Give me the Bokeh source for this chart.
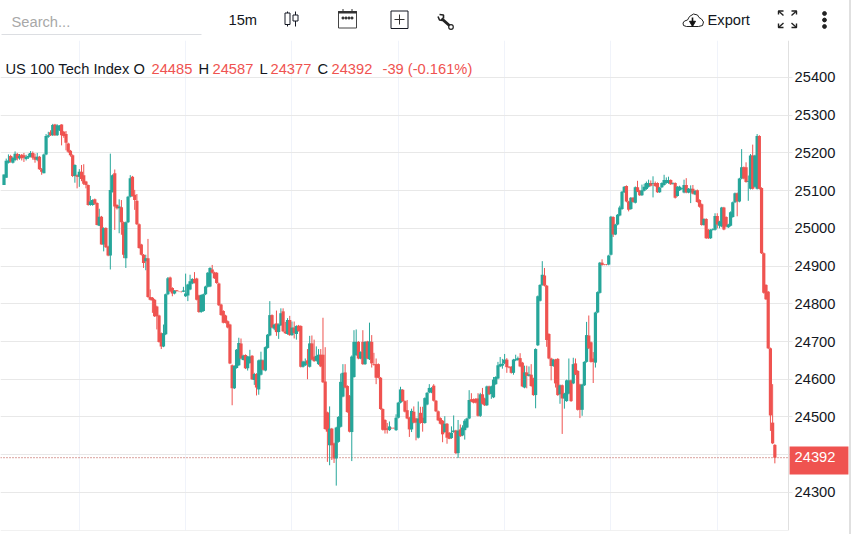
from bokeh.embed import file_html
from bokeh.resources import INLINE
from bokeh.plotting import figure
from bokeh.layouts import column, row
from bokeh.core.properties import value
from bokeh.models import (ColumnDataSource, Range1d, FixedTicker, Grid, Span, Label, BoxAnnotation, Div)

opens = [
25115,25134,25174,25192,25174,25181,25197,25186,25195,25194,
25184,25188,25190,25200,25190,25182,25190,25157,25146,25196,
25243,25255,25247,25275,25247,25260,25275,25256,25250,25225,
25206,25194,25139,25141,25137,25150,25141,25124,25115,25062,
25062,25077,25067,25007,25031,24957,25001,24952,24928,25097,
25146,25062,25053,25056,25016,24921,25016,25084,25137,25089,
25073,25011,24957,24930,24913,24921,24818,24816,24811,24793,
24769,24722,24687,24719,24825,24870,24842,24827,24836,24832,
24832,24832,24820,24822,24838,24854,24866,24867,24822,24778,
24781,24825,24845,24846,24891,24883,24882,24854,24798,24781,
24769,24754,24745,24637,24576,24630,24637,24695,24651,24664,
24629,24643,24662,24598,24614,24573,24612,24650,24623,24683,
24716,24770,24734,24748,24725,24743,24780,24727,24720,24757,
24717,24737,24720,24742,24741,24633,24637,24650,24633,24695,
24660,24649,24640,24665,24665,24594,24512,24425,24469,24430,
24390,24434,24474,24554,24618,24582,24556,24460,24606,24664,
24699,24655,24699,24640,24700,24653,24699,24640,24640,24640,
24604,24521,24492,24470,24465,24471,24471,24465,24498,24538,
24572,24542,24518,24498,24467,24514,24496,24445,24511,24498,
24484,24533,24565,24565,24583,24543,24515,24497,24490,24460,
24482,24458,24444,24460,24464,24404,24467,24451,24465,24472,
24496,24547,24547,24548,24549,24503,24560,24549,24531,24581,
24561,24552,24587,24602,24634,24636,24642,24652,24633,24633,
24617,24650,24651,24656,24644,24578,24618,24609,24612,24602,
24558,24690,24808,24850,24875,24848,24720,24655,24635,24652,
24654,24560,24584,24549,24542,24562,24597,24589,24642,24622,
24586,24519,24584,24646,24716,24698,24655,24644,24777,24829,
24909,24904,24904,24904,24930,25030,24984,25010,25034,25051,
25096,25112,25071,25051,25081,25068,25109,25100,25088,25100,
25104,25110,25120,25118,25120,25120,25096,25109,25115,25120,
25120,25128,25118,25120,25086,25101,25104,25095,25115,25095,
25095,25105,25090,25101,25075,25064,25009,25025,24996,24974,
24996,24996,25033,25007,25005,25055,25030,25003,25007,25030,
25069,25093,25071,25132,25162,25162,25123,25105,25193,25110,
25105,25245,25107,24934,24850,24832,24682,24485,24426]
closes = [
25143,25179,25180,25177,25187,25198,25185,25192,25186,25187,
25190,25192,25200,25187,25182,25190,25157,25150,25196,25245,
25247,25247,25274,25247,25273,25272,25247,25245,25227,25203,
25194,25139,25168,25137,25150,25131,25118,25115,25062,25071,
25075,25065,25009,25031,24957,25001,24950,24928,25102,25141,
25058,25053,25058,25016,24930,25016,25084,25133,25086,25075,
25011,24948,24930,24908,24921,24818,24811,24809,24767,24767,
24699,24687,24722,24825,24868,24833,24827,24835,24833,24832,
24831,24835,24827,24851,24860,24866,24856,24811,24778,24823,
24825,24846,24882,24895,24882,24868,24855,24796,24770,24750,
24750,24737,24642,24576,24635,24678,24696,24655,24663,24629,
24660,24660,24600,24614,24578,24650,24652,24625,24685,24718,
24770,24737,24745,24725,24745,24775,24727,24722,24757,24717,
24737,24722,24741,24728,24633,24647,24647,24641,24695,24652,
24648,24662,24665,24634,24592,24468,24461,24469,24425,24390,
24472,24500,24593,24617,24578,24513,24461,24660,24699,24699,
24655,24672,24640,24699,24655,24700,24642,24638,24604,24604,
24521,24466,24465,24466,24475,24470,24470,24498,24538,24573,
24542,24514,24496,24467,24516,24485,24485,24496,24484,24484,
24550,24564,24577,24577,24543,24515,24491,24482,24454,24482,
24445,24442,24458,24464,24404,24464,24449,24472,24490,24496,
24545,24541,24538,24538,24503,24560,24535,24531,24581,24560,
24581,24599,24606,24637,24640,24641,24652,24632,24631,24617,
24652,24653,24656,24634,24581,24618,24609,24613,24582,24558,
24680,24820,24850,24877,24848,24704,24655,24635,24652,24589,
24558,24584,24549,24562,24597,24597,24542,24640,24613,24519,
24519,24586,24646,24717,24682,24646,24646,24777,24831,24909,
24903,24903,24903,24928,25031,24984,25010,25036,25055,25097,
25110,25071,25049,25081,25070,25109,25098,25088,25101,25110,
25120,25120,25113,25120,25112,25096,25108,25120,25128,25128,
25128,25117,25120,25081,25110,25110,25106,25115,25095,25105,
25105,25092,25100,25070,25057,25009,25025,24974,24974,24996,
24998,25033,25010,25018,25055,24997,25005,25010,25043,25069,
25093,25071,25132,25162,25132,25123,25125,25193,25105,25193,
25245,25105,24934,24829,24812,24682,24504,24430,24392]
highs = [
25143,25185,25196,25195,25190,25204,25200,25197,25197,25200,
25195,25198,25205,25204,25198,25200,25192,25160,25198,25250,
25256,25260,25277,25277,25276,25274,25276,25258,25258,25227,
25208,25196,25170,25143,25157,25168,25170,25126,25116,25086,
25077,25079,25069,25052,25033,25003,25003,24954,25198,25143,
25156,25064,25077,25075,25018,25018,25086,25141,25139,25102,
25091,25013,24959,24932,24930,24972,24838,24818,24813,24795,
24771,24724,24745,24827,24871,24872,24844,24836,24836,24833,
24833,24845,24880,24853,24877,24868,24884,24869,24824,24825,
24827,24848,24884,24897,24903,24885,24884,24856,24800,24783,
24771,24756,24747,24639,24637,24680,24710,24708,24665,24666,
24662,24678,24664,24617,24616,24652,24673,24652,24687,24720,
24807,24772,24747,24782,24748,24788,24788,24752,24762,24768,
24753,24753,24743,24744,24743,24649,24655,24680,24715,24716,
24705,24687,24680,24680,24763,24685,24514,24528,24471,24432,
24474,24502,24615,24640,24640,24584,24558,24663,24730,24732,
24701,24674,24730,24701,24702,24750,24717,24670,24655,24642,
24606,24523,24494,24484,24488,24472,24472,24507,24540,24580,
24574,24544,24545,24500,24522,24528,24498,24541,24527,24527,
24552,24566,24587,24579,24587,24545,24517,24499,24492,24502,
24484,24460,24475,24504,24466,24492,24480,24478,24494,24498,
24571,24563,24549,24550,24563,24564,24577,24551,24583,24583,
24583,24606,24608,24646,24659,24654,24667,24656,24635,24635,
24654,24665,24660,24669,24646,24636,24636,24634,24640,24604,
24682,24822,24852,24913,24895,24850,24722,24657,24654,24654,
24656,24586,24586,24564,24599,24655,24599,24657,24655,24624,
24588,24588,24648,24752,24769,24700,24672,24779,24833,24911,
24918,24905,24905,24930,25033,25032,25012,25038,25060,25099,
25112,25114,25073,25083,25083,25111,25126,25102,25116,25118,
25124,25129,25127,25138,25124,25122,25110,25122,25142,25135,
25137,25130,25122,25122,25112,25113,25108,25129,25133,25107,
25114,25115,25102,25103,25077,25066,25027,25027,24998,24998,
25000,25040,25040,25020,25057,25057,25032,25012,25045,25071,
25095,25095,25134,25210,25164,25175,25140,25197,25222,25195,
25250,25247,25109,24936,24852,24834,24684,24587,24428]
lows = [
25115,25134,25172,25174,25172,25178,25180,25182,25180,25176,
25180,25184,25188,25182,25174,25178,25155,25142,25146,25194,
25240,25245,25245,25245,25245,25258,25220,25240,25207,25200,
25190,25136,25121,25106,25110,25125,25115,25106,25060,25060,
25060,25062,25008,25006,24957,24939,24948,24926,24891,25095,
24996,25050,24987,24983,24921,24895,25014,25082,25084,25049,
25009,24946,24928,24895,24889,24816,24809,24776,24765,24732,
24697,24680,24685,24717,24823,24831,24820,24825,24833,24831,
24830,24831,24818,24807,24836,24852,24854,24809,24776,24776,
24779,24823,24843,24844,24880,24866,24853,24794,24768,24748,
24748,24735,24640,24531,24574,24628,24635,24653,24650,24627,
24623,24641,24598,24585,24557,24559,24610,24623,24621,24681,
24714,24735,24730,24715,24707,24741,24725,24720,24718,24715,
24715,24708,24705,24726,24631,24631,24635,24600,24631,24650,
24646,24647,24638,24632,24590,24466,24381,24372,24386,24378,
24318,24432,24472,24552,24576,24511,24459,24383,24604,24662,
24653,24653,24638,24638,24653,24651,24631,24636,24587,24602,
24519,24464,24456,24456,24463,24469,24469,24463,24496,24536,
24540,24512,24494,24447,24460,24483,24438,24443,24482,24461,
24482,24531,24563,24563,24541,24513,24489,24480,24433,24458,
24429,24441,24442,24458,24402,24391,24447,24449,24440,24470,
24494,24539,24536,24536,24501,24500,24533,24529,24529,24558,
24548,24550,24585,24600,24632,24628,24640,24617,24629,24615,
24612,24648,24649,24632,24579,24576,24576,24607,24580,24556,
24523,24688,24806,24848,24846,24686,24653,24597,24633,24578,
24556,24535,24455,24522,24540,24560,24540,24587,24611,24517,
24497,24503,24582,24644,24680,24644,24590,24631,24775,24827,
24901,24902,24902,24902,24928,24977,24982,25008,25032,25049,
25094,25069,25045,25049,25068,25066,25096,25086,25086,25098,
25102,25108,25111,25082,25110,25094,25094,25107,25113,25118,
25118,25115,25116,25079,25084,25099,25102,25093,25093,25093,
25067,25090,25088,25068,25055,25007,25007,24972,24972,24972,
24994,24994,25000,25000,25003,24995,25003,25001,25005,25028,
25067,25032,25069,25130,25130,25121,25073,25103,25103,25108,
25103,25103,24932,24827,24810,24680,24463,24428,24377]

price_ticks = [24300,24400,24500,24600,24700,24800,24900,25000,25100,25200,25300,25400]
session_bars = [34,82,130,178,226,274,322]
last_price = 24392
title_parts = [("US 100 Tech Index O", 5, "d"), ("24485", 151, "r"), ("H", 198, "d"), ("24587", 212, "r"),
               ("L", 259, "d"), ("24377", 270, "r"), ("C", 317, "d"), ("24392", 331, "r"),
               ("-39 (-0.161%)", 382, "r")]

FONT = "Liberation Sans"
UP, DOWN, INK = "#26a69a", "#ef5350", "#131722"
X0, X_AXIS, X1 = -1.58, 354.2, 381.7
Y0, Y1 = 24199, 25498

idx = list(range(len(closes)))
colors = [UP if c > o else DOWN for o, c in zip(opens, closes)]
src = ColumnDataSource(dict(x=idx, o=opens, h=highs, l=lows, c=closes, color=colors))

# ---- toolbar strip -------------------------------------------------------
H = figure(width=849, height=40, frame_width=849, frame_height=40, x_range=Range1d(0, 849), y_range=Range1d(40, 0),
           toolbar_location=None, output_backend="svg", x_axis_location=None, y_axis_location=None,
           min_border=0, outline_line_color=None)
H.grid.visible = False
def txt(x, y, s, color=INK, size="14.7px", align="left"):
    H.text([x], [y], text=[s], text_color=color, text_font=value(FONT), text_font_size=size,
           text_baseline="middle", text_align=align)
txt(11, 21.5, "Search...", "#a8a8a8")
H.segment([1], [34], [201], [34], line_color="#dcdee2", line_width=1)
txt(228, 19, "15m")
txt(707, 19, "Export")
# candle icon
H.segment([287, 295], [11, 11], [287, 295], [26, 26], line_color=INK, line_width=1)
H.quad(left=[284.5, 292.5], right=[289.5, 297.5], top=[12.5, 14.5], bottom=[24, 20.5], fill_color="white", line_color=INK, line_width=1)
# calendar icon
H.quad(left=[338], right=[356], top=[11], bottom=[27.5], fill_color="white", line_color="#444444", line_width=1)
H.quad(left=[338], right=[356], top=[11], bottom=[12.5], fill_color="#333333", line_color="#333333")
H.segment([342.5, 351.5], [8.5, 8.5], [342.5, 351.5], [11, 11], line_color="#333333", line_width=1)
H.scatter([342.5, 345.5, 348.5, 351.5], [17.5, 17.5, 17.5, 17.5], size=1.8, color="#333333", marker="square")
# plus box
H.quad(left=[390.5], right=[407.5], top=[10.5], bottom=[28], fill_color="white", line_color=INK, line_width=1)
H.segment([394, 399], [19, 14], [404, 399], [19, 24], line_color="#333333", line_width=1)
# wrench
H.line([441, 450], [18, 26], line_color="#222222", line_width=3)
H.line([437.5, 439, 442], [16, 19.5, 20], line_color="#222222", line_width=1.6)
H.line([439, 443, 443], [14, 14.5, 18], line_color="#222222", line_width=1.6)
H.circle([450.5], [26.5], radius=2.3, fill_color="white", line_color="#222222", line_width=1.2)
# cloud + arrow
H.line([686, 683, 682.5, 684, 687, 689, 693, 697, 698.5, 701, 703, 702, 698, 686],
       [26, 25, 22.5, 20.5, 19.5, 16, 13.5, 14.5, 17, 18.5, 21.5, 25, 26, 26], line_color="#222222", line_width=1)
H.segment([692], [17], [692], [22], line_color="#111111", line_width=1.6)
H.scatter([692], [22.5], size=6, marker="inverted_triangle", color="#111111")
# fullscreen
H.multi_line([[778, 778, 783], [796, 796, 791], [778, 778, 783], [796, 796, 791],
              [778, 783], [796, 791], [778, 783], [796, 791]],
             [[14, 10.5, 10.5], [14, 10.5, 10.5], [23, 27, 27], [23, 27, 27],
              [10.5, 15], [10.5, 15], [27, 22.5], [27, 22.5]], line_color="#222222", line_width=1.4)
# menu
H.circle([824, 824, 824], [13, 19.5, 26], radius=1.9, color="#222222")

# ---- chart ---------------------------------------------------------------
p = figure(width=849, height=491, frame_width=849, frame_height=490,
           x_range=Range1d(X0, X1), y_range=Range1d(Y0, Y1),
           toolbar_location=None, output_backend="svg", x_axis_location=None, y_axis_location="right",
           min_border_left=0, min_border_top=0, min_border_bottom=1, min_border_right=0,
           outline_line_color=None)
p.grid.visible = False
p.add_layout(Grid(dimension=0, ticker=FixedTicker(ticks=session_bars), grid_line_color="#f0f3fa", grid_line_width=1))
p.add_layout(Grid(dimension=1, ticker=FixedTicker(ticks=price_ticks), grid_line_color="#e8e8e8", grid_line_width=1))
p.add_layout(Span(location=last_price, dimension="width", line_color="#b5453c", line_width=1, line_dash=[1, 2], level="underlay"))
# price-scale background hides the grid right of the axis
p.quad(left=[X_AXIS], right=[X1], top=[Y1], bottom=[Y0], fill_color="white", line_color=None)

ax = p.yaxis[0]
ax.fixed_location = X_AXIS
ax.ticker = FixedTicker(ticks=price_ticks)
ax.major_tick_line_color = "#e8e8e8"
ax.major_tick_out = 4
ax.major_tick_in = 0
ax.minor_tick_line_color = None
ax.axis_line_color = "#e0e0e0"
ax.major_label_text_font = FONT
ax.major_label_text_font_size = "14.7px"
ax.major_label_text_color = INK
ax.major_label_standoff = 2

p.segment("x", "h", "x", "l", source=src, line_color="color", line_width=1)
p.vbar("x", 1.45, "o", "c", source=src, fill_color="color", line_color=None)
p.add_layout(BoxAnnotation(left=0, right=788, top=489.5, bottom=490.5, left_units="canvas", right_units="canvas",
                           top_units="canvas", bottom_units="canvas", fill_color="#e4e4e4", fill_alpha=1,
                           line_color=None, level="overlay"))
p.add_layout(Label(x=818.5, y=420, x_units="canvas", y_units="canvas", text=str(last_price), text_color="white",
                   text_font=FONT, text_font_size="14.7px", text_align="center", text_baseline="middle", level="overlay",
                   background_fill_color=DOWN, background_fill_alpha=1, padding=(5, 13, 5, 13)))
for s, x, kind in title_parts:
    p.add_layout(Label(x=x, y=28.5, x_units="canvas", y_units="canvas", text=s, text_color=INK if kind == "d" else DOWN,
                       text_font=FONT, text_font_size="14.7px", text_baseline="middle", level="overlay"))

edge = Div(width=2, height=534, margin=0, styles={"background": "#e0e0e0"})
page = row(column(H, p, spacing=0), edge, spacing=0)
open("out.html", "w").write(file_html(page, INLINE))
